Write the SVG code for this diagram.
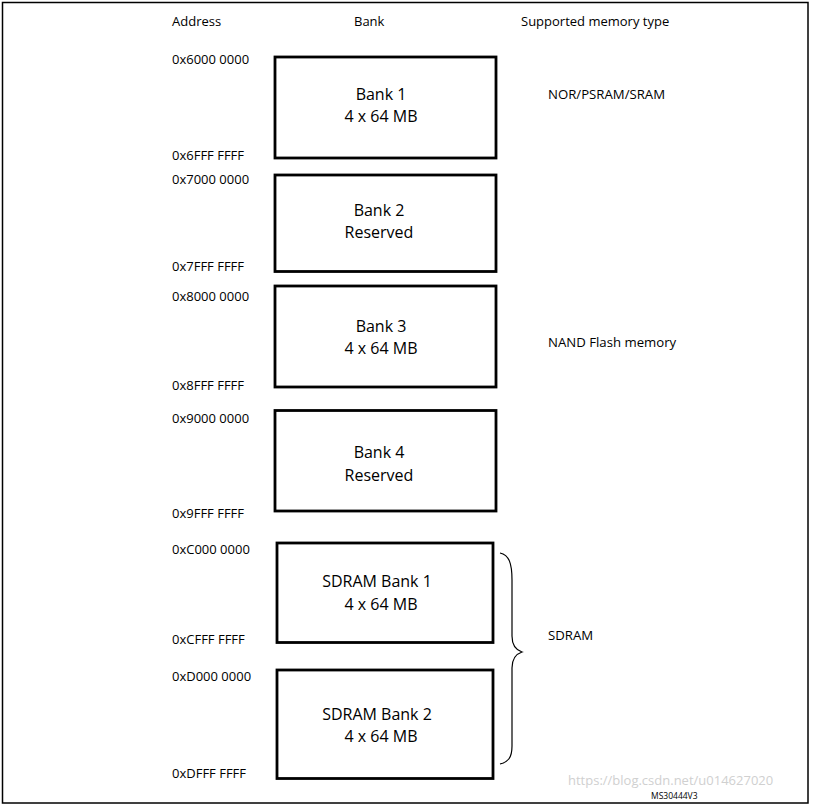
<svg xmlns="http://www.w3.org/2000/svg" width="816" height="806" viewBox="0 0 816 806">
<style>
text{font-family:"Open Sans","Noto Sans",sans-serif;fill:#000}
.hdr{font-size:13px}
.addr{font-size:13px}
.lbl{font-size:16px;text-anchor:middle}
.type{font-size:13.2px}
.box{fill:#fff;stroke:#000;stroke-width:2.8}
</style>
<rect x="2.5" y="2.5" width="805.5" height="800.5" fill="#fff" stroke="#000" stroke-width="1.5"/>
<g id="headers">
<text class="hdr" x="172" y="26">Address</text>
<text class="hdr" x="354" y="26">Bank</text>
<text class="hdr" x="521" y="26">Supported memory type</text>
</g>
<g id="addresses">
<text class="addr" x="172" y="64">0x6000 0000</text>
<text class="addr" x="172" y="160">0x6FFF FFFF</text>
<text class="addr" x="172" y="184">0x7000 0000</text>
<text class="addr" x="172" y="271">0x7FFF FFFF</text>
<text class="addr" x="172" y="301">0x8000 0000</text>
<text class="addr" x="172" y="390">0x8FFF FFFF</text>
<text class="addr" x="172" y="423">0x9000 0000</text>
<text class="addr" x="172" y="518">0x9FFF FFFF</text>
<text class="addr" x="172" y="554">0xC000 0000</text>
<text class="addr" x="172" y="644">0xCFFF FFFF</text>
<text class="addr" x="172" y="681">0xD000 0000</text>
<text class="addr" x="172" y="778">0xDFFF FFFF</text>
</g>
<g id="bank1"><rect class="box" x="275" y="57" width="221" height="101"/><text class="lbl" x="381" y="100">Bank 1</text><text class="lbl" x="381" y="122">4 x 64 MB</text></g>
<g id="bank2"><rect class="box" x="275" y="175" width="221" height="96.5"/><text class="lbl" x="379" y="216">Bank 2</text><text class="lbl" x="379" y="238">Reserved</text></g>
<g id="bank3"><rect class="box" x="275" y="286" width="221" height="101"/><text class="lbl" x="381" y="332">Bank 3</text><text class="lbl" x="381" y="354">4 x 64 MB</text></g>
<g id="bank4"><rect class="box" x="275" y="410.5" width="221" height="100.5"/><text class="lbl" x="379" y="458">Bank 4</text><text class="lbl" x="379" y="481">Reserved</text></g>
<g id="sdram1"><rect class="box" x="277" y="543" width="216" height="99.5"/><text class="lbl" x="377" y="587">SDRAM Bank 1</text><text class="lbl" x="381" y="610">4 x 64 MB</text></g>
<g id="sdram2"><rect class="box" x="277" y="670" width="216" height="108.5"/><text class="lbl" x="377" y="720">SDRAM Bank 2</text><text class="lbl" x="381" y="742">4 x 64 MB</text></g>
<g id="types">
<text class="type" x="548" y="99">NOR/PSRAM/SRAM</text>
<text class="type" x="548" y="347">NAND Flash memory</text>
<text class="type" x="548" y="640">SDRAM</text>
</g>
<g id="connectors">
<path d="M500,553 C509,555 512,563 512,580 L512,636 C512,646 516,650 522,652 C516,654 512,658 512,668 L512,746 C512,758 508,762 500,764" fill="none" stroke="#000" stroke-width="1.2"/>
</g>
<text x="568" y="785" font-size="13" style="fill:#d0d0d0">https://blog.csdn.net/u014627020</text>
<text x="651" y="799" font-size="8.5">MS30444V3</text>
</svg>
